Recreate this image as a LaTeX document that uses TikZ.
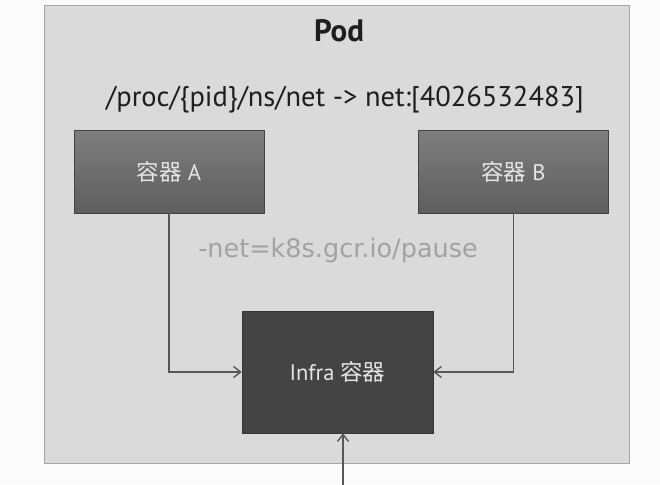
\documentclass[tikz,border=0pt]{standalone}
\usepackage{fontspec}
\setmainfont{PT Sans}
\newfontfamily\cjk{Noto Sans CJK SC}
\newfontfamily\wide{DejaVu Sans}
\usepackage{xcolor}
\usetikzlibrary{arrows.meta,positioning}
\definecolor{cPage}{HTML}{FBFBFB}
\definecolor{cPod}{HTML}{DADADA}
\definecolor{cPodLine}{HTML}{A6A6A6}
\definecolor{cBoxTop}{HTML}{7E7E7E}
\definecolor{cBoxBot}{HTML}{5E5E5E}
\definecolor{cInfra}{HTML}{444444}
\definecolor{cLine}{HTML}{575757}
\definecolor{cHint}{HTML}{A2A2A2}
\definecolor{cText}{HTML}{1E1E1E}
\tikzset{
  podbox/.style={draw=cPodLine, line width=1pt, fill=cPod,
                 minimum width=585pt, minimum height=457pt, inner sep=0pt},
  ctrbox/.style={draw=cBoxBot!70!black, line width=0.6pt, top color=cBoxTop, bottom color=cBoxBot,
                 minimum width=190pt, minimum height=83pt, inner sep=0pt,
                 text=white!90!black, font=\fontsize{22.5}{26}\selectfont},
  infrabox/.style={draw=cInfra!80!black, line width=0.6pt, fill=cInfra,
                   minimum width=191pt, minimum height=122pt, inner sep=0pt,
                   text=white!90!black, font=\fontsize{22.5}{26}\selectfont},
  title/.style={font=\bfseries\fontsize{31}{35}\selectfont, text=cText},
  pathlbl/.style={font=\fontsize{28.5}{33}\selectfont, text=cText},
  hint/.style={font=\wide\fontsize{25.5}{30}\selectfont, text=cHint},
  link/.style={-{Straight Barb[length=7pt, width=11pt, line width=1.4pt]}, line width=1.6pt, cLine}
}

\begin{document}
\begin{tikzpicture}[x=1pt, y=-1pt]
\fill[cPage] (0,0) rectangle (660,484);
\useasboundingbox (0,0) rectangle (660,484);
% pod frame and labels
\node[podbox] (pod) at (336.5,234.5) {};
\node[title] (podlbl) at (339,31) {Pod};
\node[pathlbl] (nspath) at (345,100) {/proc/\{pid\}/ns/net -> net:[4026532483]};
% containers
\node[ctrbox] (ctrA) at (169,171.5) {{\cjk 容器} A};
\node[ctrbox] (ctrB) at (513.5,171.5) {{\cjk 容器} B};
\node[hint] (netflag) at (338,250) {-net=k8s.gcr.io/pause};
\node[infrabox] (infra) at (337.5,372) {Infra {\cjk 容器}};
% links into the infra container
\coordinate (ext) at (343,490);
\draw[link] (ctrA.south) |- (infra.west);
\draw[link] (ctrB.south) |- (infra.east);
\draw[link] (ext) -- (ext |- infra.south);
\end{tikzpicture}
\end{document}
